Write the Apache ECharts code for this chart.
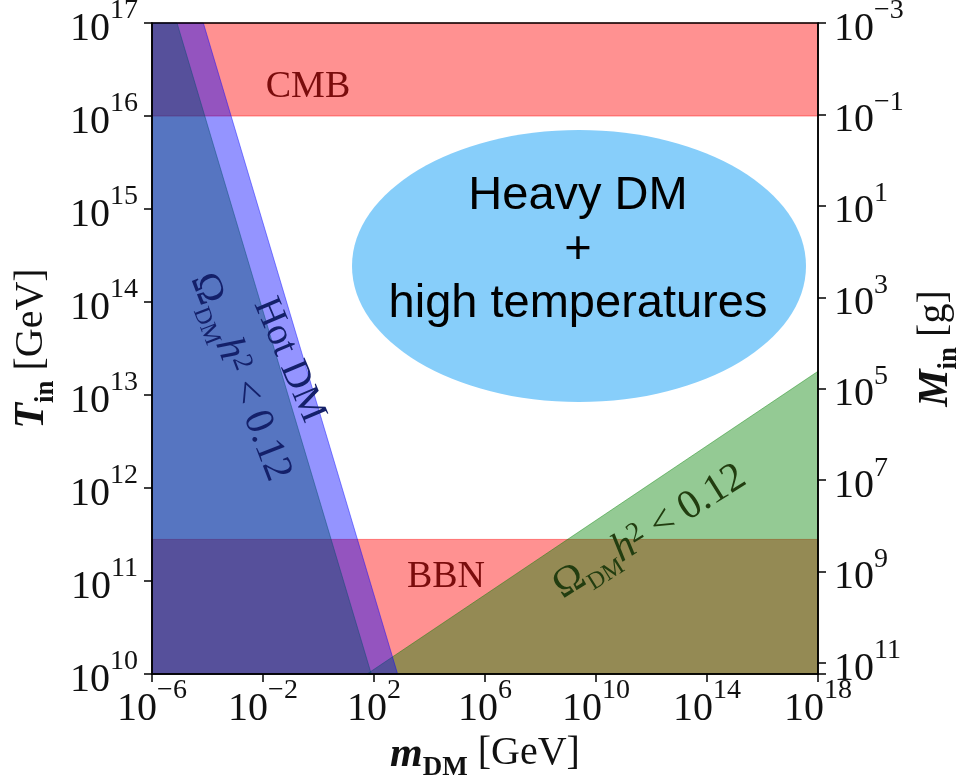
<!DOCTYPE html>
<html>
<head>
<meta charset="utf-8">
<script src="https://cdn.jsdelivr.net/npm/echarts@6/dist/echarts.min.js"></script>
<style>
  html, body { margin: 0; padding: 0; background: #fff; }
  #chart { width: 966px; height: 778px; }
</style>
</head>
<body>
<div id="chart"></div>
<script>
// axis ranges
const massRange = [1e-6, 1e18];       // m_DM [GeV]
const tempRange = [1e10, 1e17];       // T_in [GeV]
const pbhMassRange = [1e-3, 1.74e11]; // M_in [g], runs top -> bottom

// tick labels (powers of ten)
const massTicks = [1e-6, 1e-2, 1e2, 1e6, 1e10, 1e14, 1e18];
const tempTicks = [1e10, 1e11, 1e12, 1e13, 1e14, 1e15, 1e16, 1e17];
const pbhTicks = [1e-3, 1e-1, 1e1, 1e3, 1e5, 1e7, 1e9, 1e11];

// regions, corners given as [m_DM, T_in]
const cmbBand = [[1e-6, 1e16], [1e18, 1e16], [1e18, 1e17], [1e-6, 1e17]];
const bbnBand = [[1e-6, 1e10], [1e18, 1e10], [1e18, 2.8e11], [1e-6, 2.8e11]];
const omegaLeft = [[1e-6, 1e10], [80, 1e10], [8e-6, 1e17], [1e-6, 1e17]];
const omegaRight = [[56, 1e10], [1e18, 1e10], [1e18, 1.8e13]];
const hotDM = [[1e-6, 1e10], [710, 1e10], [7.1e-5, 1e17], [1e-6, 1e17]];

const serif = '"Liberation Serif", "DejaVu Serif", serif';
const RED = 'rgba(255,0,0,0.43)';
const GREEN = 'rgba(0,128,0,0.42)';
const BLUE = 'rgba(0,0,255,0.42)';

const chart = echarts.init(document.getElementById('chart'));

const isTick = (v, list) => list.some(t => Math.abs(Math.log10(v) - Math.log10(t)) < 1e-6);
const powLabel = list => v => {
  if (!isTick(v, list)) return '';
  const e = Math.round(Math.log10(v));
  return '{b|10}{s|' + String(e).replace('-', '\u2212') + '}';
};

const tickRich = {
  b: { fontFamily: serif, fontSize: 40, lineHeight: 52, verticalAlign: 'bottom', color: '#111' },
  s: { fontFamily: serif, fontSize: 28, lineHeight: 26, verticalAlign: 'top', color: '#111' }
};

const nameRich = {
  v: { fontFamily: serif, fontSize: 42, fontStyle: 'italic', fontWeight: 'bold', lineHeight: 48, verticalAlign: 'top', color: '#111' },
  i: { fontFamily: serif, fontSize: 27, fontWeight: 'bold', lineHeight: 30, verticalAlign: 'bottom', color: '#111' },
  g: { fontFamily: serif, fontSize: 40, lineHeight: 48, verticalAlign: 'top', color: '#111' }
};

const axisCommon = {
  type: 'log',
  logBase: 10,
  z: 10,
  splitLine: { show: false },
  axisLine: { show: true, lineStyle: { color: '#000', width: 1.5 } },
  axisTick: { show: true, inside: false, length: 8, lineStyle: { color: '#000', width: 1.5 } },
  minorTick: { show: false },
  nameLocation: 'middle',
  nameTextStyle: { rich: nameRich }
};

function region(name, points, fill) {
  return {
    type: 'custom',
    name: name,
    silent: true,
    data: points,
    encode: { x: 0, y: 1 },
    renderItem: function (params, api) {
      if (params.dataIndex !== 0) return null;
      return {
        type: 'polygon',
        shape: { points: points.map(p => api.coord(p)) },
        style: { fill: fill, stroke: fill, lineWidth: 1 }
      };
    }
  };
}

const omegaText = '{o|\u03A9}{d|DM}{h|h}{p|2}{o| < 0.12}';
const omegaRich = {
  o: { fontFamily: serif, fontSize: 41, lineHeight: 46, verticalAlign: 'top' },
  d: { fontFamily: serif, fontSize: 24, lineHeight: 34, verticalAlign: 'bottom' },
  h: { fontFamily: serif, fontSize: 41, fontStyle: 'italic', lineHeight: 46, verticalAlign: 'top' },
  p: { fontFamily: serif, fontSize: 28, lineHeight: 28, verticalAlign: 'top' }
};

const deg = Math.PI / 180;

chart.setOption({
  animation: false,
  backgroundColor: '#fff',
  grid: {
    left: 152, right: 148, top: 23, bottom: 104,
    outerBoundsMode: 'none',
    containLabel: false,
    show: true, z: 10,
    backgroundColor: 'rgba(0,0,0,0)',
    borderColor: '#000', borderWidth: 1.5
  },
  xAxis: Object.assign({}, axisCommon, {
    min: massRange[0], max: massRange[1], interval: 4,
    name: '{v|m}{i|DM}{g| [GeV]}',
    nameGap: 56,
    axisLabel: { margin: 3, formatter: powLabel(massTicks), rich: tickRich }
  }),
  yAxis: [
    Object.assign({}, axisCommon, {
      min: tempRange[0], max: tempRange[1], interval: 1,
      name: '{v|T}{i|in}{g| [GeV]}',
      nameRotate: 90,
      nameGap: 78,
      axisLabel: { margin: 14, formatter: powLabel(tempTicks), rich: tickRich }
    }),
    Object.assign({}, axisCommon, {
      position: 'right',
      inverse: true,
      min: pbhMassRange[0], max: pbhMassRange[1], interval: 2,
      name: '{v|M}{i|in}{g| [g]}',
      nameRotate: 90,
      nameGap: 96,
      axisLabel: { margin: 16, formatter: powLabel(pbhTicks), rich: tickRich }
    })
  ],
  series: [
    region('CMB', cmbBand, RED),
    region('BBN', bbnBand, RED),
    region('Omega low mass', omegaLeft, GREEN),
    region('Omega high mass', omegaRight, GREEN),
    region('Hot DM', hotDM, BLUE)
  ],
  graphic: [
    {
      type: 'ellipse', z: 50, silent: true,
      shape: { cx: 579, cy: 266, rx: 227, ry: 136 },
      style: { fill: '#87cefa' }
    },
    {
      type: 'text', z: 51, x: 578, y: 250, silent: true,
      style: {
        text: 'Heavy DM\n+\nhigh temperatures',
        font: '47px "Liberation Sans", Arial, sans-serif',
        lineHeight: 54, fill: '#000', align: 'center', verticalAlign: 'middle'
      }
    },
    {
      type: 'text', z: 51, x: 308, y: 87, silent: true,
      style: { text: 'CMB', font: '38px ' + serif, fill: '#7a0c0c', align: 'center', verticalAlign: 'middle' }
    },
    {
      type: 'text', z: 51, x: 446, y: 577, silent: true,
      style: { text: 'BBN', font: '38px ' + serif, fill: '#7a0c0c', align: 'center', verticalAlign: 'middle' }
    },
    {
      type: 'text', z: 51, x: 289, y: 360, rotation: -67 * deg, silent: true,
      style: { text: 'Hot DM', font: '39px ' + serif, fill: '#14206a', align: 'center', verticalAlign: 'middle' }
    },
    {
      type: 'text', z: 51, x: 238, y: 378, rotation: -69 * deg, silent: true,
      style: { text: omegaText, rich: omegaRich, fill: '#14206a', align: 'center', verticalAlign: 'middle' }
    },
    {
      type: 'text', z: 51, x: 651, y: 534, rotation: 32 * deg, silent: true,
      style: { text: omegaText, rich: omegaRich, fill: '#223d10', align: 'center', verticalAlign: 'middle' }
    }
  ]
});
</script>
</body>
</html>
